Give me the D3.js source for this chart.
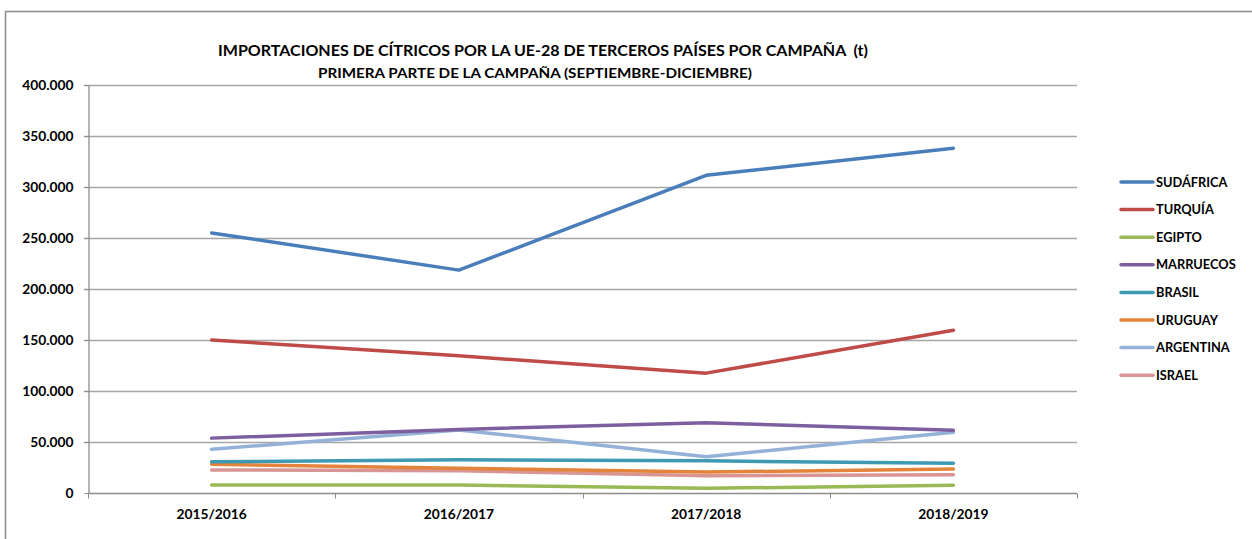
<!DOCTYPE html>
<html lang="es">
<head>
  <meta charset="UTF-8">
  <title>Importaciones de cítricos UE-28</title>
  <script src="https://cdn.jsdelivr.net/npm/d3@7"></script>
  <style>
    html, body { margin: 0; padding: 0; background: #fff; overflow: hidden; }
    text { font-family: Lato, "Open Sans", sans-serif; font-weight: bold; fill: #000; }
  </style>
</head>
<body>
  <svg id="chart"></svg>
  <script>
    // campaigns on the x axis
    const campaigns = ['2015/2016', '2016/2017', '2017/2018', '2018/2019'];
    const yTicks = [0, 50000, 100000, 150000, 200000, 250000, 300000, 350000, 400000];

    // series values (t)
    const sudafrica = [255000, 218500, 311500, 338000];
    const turquia   = [150000, 134500, 117500, 159500];
    const egipto    = [7800, 7800, 4600, 7500];
    const marruecos = [53800, 62300, 68900, 61500];
    const brasil    = [30600, 32500, 31500, 29200];
    const uruguay   = [28200, 24300, 20500, 23600];
    const argentina = [42900, 61800, 35600, 59500];
    const israel    = [22600, 21800, 17000, 18000];

    const seriesNames = ['SUDÁFRICA', 'TURQUÍA', 'EGIPTO', 'MARRUECOS', 'BRASIL', 'URUGUAY', 'ARGENTINA', 'ISRAEL'];
    const seriesValues = [sudafrica, turquia, egipto, marruecos, brasil, uruguay, argentina, israel];
    const seriesColors = ['#4A7EBB', '#BE4B48', '#98B954', '#7D5FA0', '#3E9AB3', '#E3843A', '#94B1D8', '#D89593'];

    const width = 1252, height = 539;
    const margin = { top: 85, right: 175, bottom: 46, left: 88 };

    const svg = d3.select('#chart')
        .attr('width', width)
        .attr('height', height);

    // outer chart border (right and bottom edges fall outside the picture)
    svg.append('rect')
        .attr('x', 5.5).attr('y', 11.5)
        .attr('width', width + 20).attr('height', height + 20)
        .attr('fill', 'none')
        .attr('stroke', '#8c8c8c')
        .attr('stroke-width', 1.5);

    const x = d3.scaleBand()
        .domain(campaigns)
        .range([margin.left, width - margin.right])
        .paddingInner(0).paddingOuter(0);

    const y = d3.scaleLinear()
        .domain([0, 400000])
        .range([height - margin.bottom, margin.top]);

    // title
    svg.append('text')
        .attr('x', 218).attr('y', 56)
        .attr('xml:space', 'preserve')
        .style('white-space', 'pre')
        .style('font-size', '15.5px')
        .attr('textLength', 650)
        .attr('lengthAdjust', 'spacingAndGlyphs')
        .text('IMPORTACIONES DE CÍTRICOS POR LA UE-28 DE TERCEROS PAÍSES POR CAMPAÑA  (t)');
    svg.append('text')
        .attr('x', 318).attr('y', 78)
        .style('font-size', '13.5px')
        .attr('textLength', 434)
        .attr('lengthAdjust', 'spacingAndGlyphs')
        .text('PRIMERA PARTE DE LA CAMPAÑA (SEPTIEMBRE-DICIEMBRE)');

    // gridlines
    svg.append('g')
        .selectAll('line')
        .data(yTicks.filter(d => d > 0))
        .enter()
        .append('line')
        .attr('x1', margin.left - 4)
        .attr('x2', width - margin.right)
        .attr('y1', d => Math.round(y(d)) + 0.5)
        .attr('y2', d => Math.round(y(d)) + 0.5)
        .attr('stroke', '#a6a6a6')
        .attr('stroke-width', 1.3);

    // y axis
    const yAxis = svg.append('g')
        .attr('transform', `translate(${margin.left + 0.5},0)`)
        .call(d3.axisLeft(y).tickValues(yTicks).tickSize(4).tickSizeOuter(0)
          .tickFormat(d => d === 0 ? '0' : d3.format(',')(d).replace(/,/g, '.')));
    yAxis.select('.domain').attr('stroke', '#8c8c8c').attr('stroke-width', 1.3);
    yAxis.selectAll('.tick line').attr('stroke', '#8c8c8c');
    yAxis.selectAll('.tick text')
        .attr('x', -15)
        .style('font-size', '13.8px')
        .style('font-family', 'Lato, sans-serif');

    // x axis
    const xAxis = svg.append('g')
        .attr('transform', `translate(0,${Math.round(y(0)) + 0.5})`);
    xAxis.append('line')
        .attr('x1', margin.left).attr('x2', width - margin.right)
        .attr('stroke', '#8c8c8c').attr('stroke-width', 1.3);
    const boundaries = campaigns.map(c => x(c)).concat([x(campaigns[campaigns.length - 1]) + x.bandwidth()]);
    xAxis.selectAll('.xtick')
        .data(boundaries)
        .enter()
        .append('line')
        .attr('x1', d => Math.round(d) + 0.5).attr('x2', d => Math.round(d) + 0.5)
        .attr('y1', 0).attr('y2', 5)
        .attr('stroke', '#8c8c8c');
    xAxis.selectAll('.xlabel')
        .data(campaigns)
        .enter()
        .append('text')
        .attr('x', d => x(d) + x.bandwidth() / 2)
        .attr('y', 25)
        .attr('text-anchor', 'middle')
        .style('font-size', '13.8px')
        .text(d => d);

    // lines
    const line = d3.line()
        .x((d, i) => x(campaigns[i]) + x.bandwidth() / 2)
        .y(d => y(d));

    svg.append('g')
        .selectAll('path')
        .data(seriesValues.map((v, i) => ({ v: v, i: i })).reverse())
        .enter()
        .append('path')
        .attr('d', d => line(d.v))
        .attr('fill', 'none')
        .attr('stroke', d => seriesColors[d.i])
        .attr('stroke-width', 3.5)
        .attr('stroke-linejoin', 'round')
        .attr('stroke-linecap', 'round');

    // legend
    const legend = svg.append('g')
        .selectAll('g')
        .data(seriesNames)
        .enter()
        .append('g')
        .attr('transform', (d, i) => `translate(1121,${182 + i * 27.6})`);
    legend.append('line')
        .attr('x1', 0).attr('x2', 32)
        .attr('stroke', (d, i) => seriesColors[i])
        .attr('stroke-width', 3.5)
        .attr('stroke-linecap', 'round');
    legend.append('text')
        .attr('x', 35).attr('y', 4.5)
        .style('font-size', '12.8px')
        .text(d => d);
  </script>
</body>
</html>
